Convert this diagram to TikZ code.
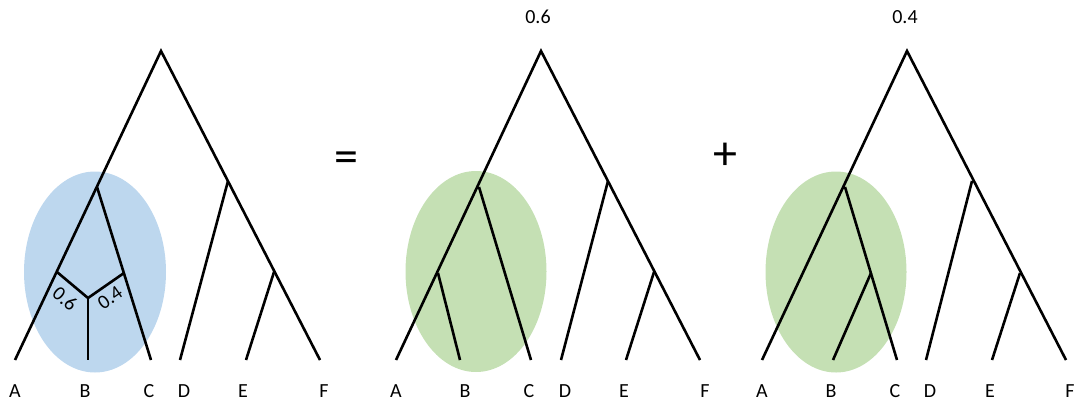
\documentclass[tikz,border=0pt]{standalone}
\usepackage{fontspec}
\setmainfont{Carlito}
\begin{document}
\begin{tikzpicture}[x=1pt,y=-1pt,
  edge/.style={line width=2.6pt,line cap=butt,black},
  leaflabel/.style={font=\fontsize{20}{22}\selectfont,inner sep=0pt},
  toplabel/.style={font=\fontsize{20}{22}\selectfont,inner sep=0pt},
  branchlabel/.style={font=\fontsize{20}{22}\selectfont,inner sep=0pt},
  opsign/.style={font=\fontsize{48}{52}\selectfont,inner sep=0pt},
  blueclade/.style={fill={rgb,255:red,189;green,215;blue,238}},
  greenclade/.style={fill={rgb,255:red,197;green,224;blue,180}}]
\useasboundingbox (0,0) rectangle (1078,405);

% ---------- Tree 1 ----------
\fill[blueclade] (95,272) ellipse [x radius=71, y radius=100.5];
\coordinate (r1) at (161,51);
\coordinate (abc1) at (97,187);
\coordinate (na1) at (57,272);
\coordinate (nc1) at (124,273);
\coordinate (j1) at (88,298);
\coordinate (def1) at (228,181);
\coordinate (ef1) at (274,272);
\coordinate (a1) at (15,360);
\coordinate (b1) at (88,360);
\coordinate (c1) at (151,360);
\coordinate (d1) at (180,360);
\coordinate (e1) at (246,360);
\coordinate (f1) at (320,360);
\draw[edge] (a1) -- (r1) -- (f1);
\draw[edge] (abc1) -- (c1);
\draw[edge] (def1) -- (d1);
\draw[edge] (ef1) -- (e1);
\draw[edge] (na1) -- (j1) -- (nc1);
\draw[edge] (j1) -- (b1);
\node[branchlabel,rotate=-40] (w6) at (65,299) {0.6};
\node[branchlabel,rotate=35] (w4) at (110,298) {0.4};
\node[leaflabel] (A1) at (15,391) {A};
\node[leaflabel] (B1) at (85,391) {B};
\node[leaflabel] (C1) at (149,391) {C};
\node[leaflabel] (D1) at (184,391) {D};
\node[leaflabel] (E1) at (243,391) {E};
\node[leaflabel] (F1) at (324,391) {F};

\node[opsign] (eq) at (346,162) {=};

% ---------- Tree 2 ----------
\fill[greenclade] (476,271.5) ellipse [x radius=70.5, y radius=100.5];
\coordinate (r2) at (541,51);
\coordinate (abc2) at (479,187);
\coordinate (ab2) at (438,273);
\coordinate (def2) at (608,181);
\coordinate (ef2) at (654,272);
\coordinate (a2) at (396,360);
\coordinate (b2) at (460,360);
\coordinate (c2) at (531,360);
\coordinate (d2) at (561,360);
\coordinate (e2) at (626,360);
\coordinate (f2) at (700,360);
\draw[edge] (a2) -- (r2) -- (f2);
\draw[edge] (abc2) -- (c2);
\draw[edge] (ab2) -- (b2);
\draw[edge] (def2) -- (d2);
\draw[edge] (ef2) -- (e2);
\node[toplabel] (p2) at (538,17) {0.6};
\node[leaflabel] (A2) at (396,391) {A};
\node[leaflabel] (B2) at (465,391) {B};
\node[leaflabel] (C2) at (529,391) {C};
\node[leaflabel] (D2) at (565,391) {D};
\node[leaflabel] (E2) at (624,391) {E};
\node[leaflabel] (F2) at (705,391) {F};

\node[opsign] (plus) at (725,156) {+};

% ---------- Tree 3 ----------
\fill[greenclade] (836,272) ellipse [x radius=70.5, y radius=100.5];
\coordinate (r3) at (907,51);
\coordinate (abc3) at (845,187);
\coordinate (bc3) at (871,273);
\coordinate (def3) at (972,181);
\coordinate (ef3) at (1020,273);
\coordinate (a3) at (762,360);
\coordinate (b3) at (833,360);
\coordinate (c3) at (897,360);
\coordinate (d3) at (926,360);
\coordinate (e3) at (992,360);
\coordinate (f3) at (1066,360);
\draw[edge] (a3) -- (r3) -- (f3);
\draw[edge] (abc3) -- (c3);
\draw[edge] (bc3) -- (b3);
\draw[edge] (def3) -- (d3);
\draw[edge] (ef3) -- (e3);
\node[toplabel] (p3) at (905,17) {0.4};
\node[leaflabel] (A3) at (762,391) {A};
\node[leaflabel] (B3) at (831,391) {B};
\node[leaflabel] (C3) at (895,391) {C};
\node[leaflabel] (D3) at (930,391) {D};
\node[leaflabel] (E3) at (990,391) {E};
\node[leaflabel] (F3) at (1070,391) {F};
\end{tikzpicture}
\end{document}
